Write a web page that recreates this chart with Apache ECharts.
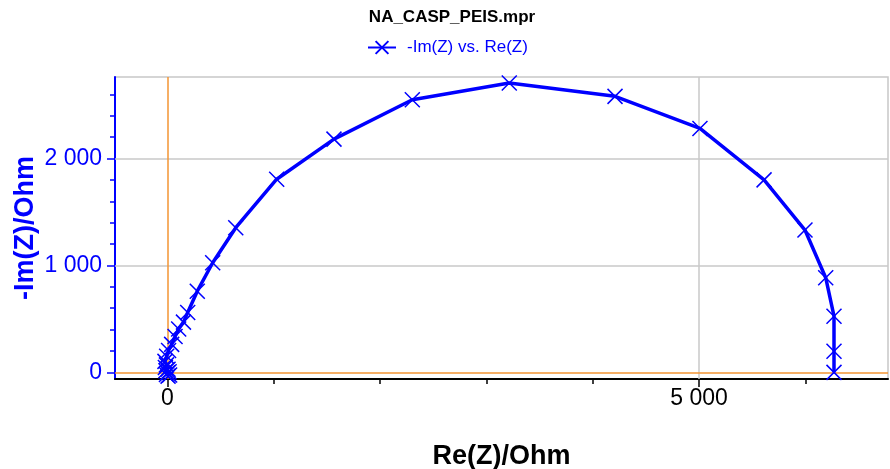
<!DOCTYPE html>
<html>
<head>
<meta charset="utf-8">
<script src="https://cdn.jsdelivr.net/npm/echarts@6/dist/echarts.min.js"></script>
<style>html,body{margin:0;padding:0;background:#fff}#c{width:890px;height:469px}</style>
</head>
<body>
<div id="c"></div>
<script>
// Data (Nyquist plot)
const reZ = [5, 20, -10, 0, 15, -15, 5, -20, -10, -24, -8, 10, 39, 71, 105, 150, 190, 280, 425, 642, 1027, 1566, 2303, 3215, 4210, 5009, 5612, 5997, 6192, 6270, 6270, 6270];
const negImZ = [-35, -25, -20, -5, 5, 15, 30, 45, 70, 103, 150, 205, 262, 335, 405, 470, 560, 759, 1025, 1353, 1806, 2181, 2549, 2706, 2581, 2281, 1800, 1331, 885, 525, 197, 0];
const xLabelValues = [0, 5000];
const xTickValues = [0, 1000, 2000, 3000, 4000, 5000, 6000];
const yLabelValues = [0, 1000, 2000];
const yMinorTickValues = [0, 200, 400, 600, 800, 1000, 1200, 1400, 1600, 1800, 2000, 2200, 2400, 2600];
const xGridValues = [5000];
const yGridValues = [1000, 2000];

const xMin = -494, xMax = 6778, yMin = -62, yMax = 2762;
const BLUE = '#0000ff';
const FONT = '"Liberation Sans", Arial, sans-serif';
const fmt = v => String(v).replace(/\B(?=(\d{3})+(?!\d))/g, ' ');

const chart = echarts.init(document.getElementById('c'), null, {renderer: 'canvas'});
const option = {
  animation: false,
  textStyle: {fontFamily: FONT},
  title: {
    text: 'NA_CASP_PEIS.mpr',
    left: 447, top: 4, textAlign: 'center',
    textStyle: {fontFamily: FONT, fontSize: 17, fontWeight: 'bold', color: '#000'}
  },
  legend: {
    data: ['-Im(Z) vs. Re(Z)'],
    left: 362, top: 34,
    itemWidth: 28, itemHeight: 16, itemGap: 10,
    textStyle: {fontFamily: FONT, fontSize: 17, color: BLUE, padding: [0, 0, 0, 6]}
  },
  grid: {
    left: 115, right: 2, top: 77, bottom: 90,
    containLabel: false, outerBoundsMode: 'none',
    show: true, borderColor: '#c8c8c8', borderWidth: 1.5, backgroundColor: 'transparent'
  },
  xAxis: [{
    type: 'value', min: xMin, max: xMax,
    name: 'Re(Z)/Ohm', nameLocation: 'middle', nameGap: 64, nameMoveOverlap: false,
    nameTextStyle: {fontFamily: FONT, fontSize: 27, fontWeight: 'bold', color: '#000'},
    axisLine: {show: true, onZero: false, lineStyle: {color: '#000', width: 2}},
    axisTick: {show: true, customValues: xLabelValues, length: 8, lineStyle: {color: '#000', width: 1.5}},
    axisLabel: {customValues: xLabelValues, formatter: fmt, margin: 8, fontFamily: FONT, fontSize: 23, color: '#000'},
    splitLine: {show: false}
  }, {
    type: 'value', min: xMin, max: xMax, position: 'bottom',
    axisLine: {show: false, onZero: false},
    axisTick: {show: true, customValues: xTickValues, length: 5, lineStyle: {color: '#000', width: 1.5}},
    axisLabel: {show: false},
    splitLine: {show: false}
  }],
  yAxis: [{
    type: 'value', min: yMin, max: yMax,
    name: '-Im(Z)/Ohm', nameLocation: 'middle', nameGap: 76, nameMoveOverlap: false,
    nameTextStyle: {fontFamily: FONT, fontSize: 27, fontWeight: 'bold', color: BLUE},
    axisLine: {show: true, onZero: false, lineStyle: {color: BLUE, width: 2}},
    axisTick: {show: true, customValues: yLabelValues, length: 8, lineStyle: {color: BLUE, width: 1.5}},
    axisLabel: {customValues: yLabelValues, formatter: fmt, margin: 13, fontFamily: FONT, fontSize: 23, color: BLUE},
    splitLine: {show: false}
  }, {
    type: 'value', min: yMin, max: yMax, position: 'left',
    axisLine: {show: false, onZero: false},
    axisTick: {show: true, customValues: yMinorTickValues, length: 5, lineStyle: {color: BLUE, width: 1.5}},
    axisLabel: {show: false},
    splitLine: {show: false}
  }],
  series: [{
    name: 'guides', type: 'line', data: [], z: 1, silent: true,
    markLine: {
      silent: true, symbol: ['none', 'none'], label: {show: false},
      data: [
        ...xGridValues.map(v => ({xAxis: v, lineStyle: {color: '#c8c8c8', width: 1.5, type: 'solid'}})),
        ...yGridValues.map(v => ({yAxis: v, lineStyle: {color: '#c8c8c8', width: 1.5, type: 'solid'}})),
        {xAxis: 0, lineStyle: {color: '#f39433', width: 1.5, type: 'solid'}},
        {yAxis: 0, lineStyle: {color: '#f39433', width: 1.5, type: 'solid'}}
      ]
    }
  }, {
    name: '-Im(Z) vs. Re(Z)', type: 'line', z: 5,
    data: reZ.map((x, i) => [x, negImZ[i]]),
    lineStyle: {color: BLUE, width: 3.5},
    symbol: 'path://M0,0L10,10M10,0L0,10',
    symbolSize: 15, showSymbol: true,
    itemStyle: {color: BLUE, borderColor: BLUE, borderWidth: 1.5},
    emphasis: {disabled: true}
  }]
};
chart.setOption(option);
</script>
</body>
</html>
